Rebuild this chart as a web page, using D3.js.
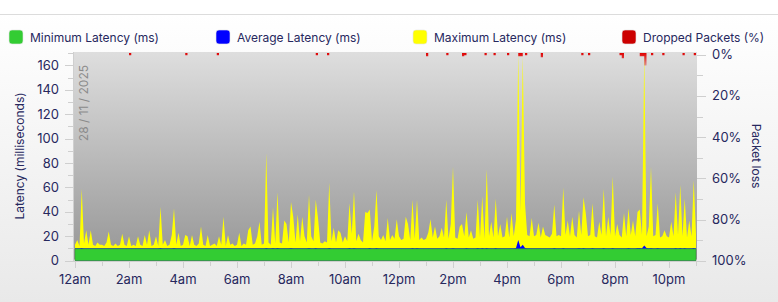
<!DOCTYPE html>
<html>
	<head>
		<meta charset="UTF-8" />
		<title>Latency</title>
		<script src="https://cdn.jsdelivr.net/npm/d3@7"></script>
		<style>
			body {
				margin: 0;
			}
			svg {
				display: block;
				width: 778px;
				height: 302px;
			}
			text {
				font-family: Inter, "Noto Sans", sans-serif;
			}
		</style>
	</head>
	<body>
		<svg></svg>

		<script>
			// one reading every 5 minutes, from 12am
			const stepMinutes = 5;

			const maxLatency = [
				13, 17, 12, 59, 14, 25, 13, 25, 13, 12, 15, 13,
				13, 12, 15, 24, 13, 12, 14, 12, 13, 22, 13, 12,
				20, 12, 13, 12, 20, 13, 12, 21, 13, 25, 12, 13,
				20, 12, 44, 13, 17, 12, 13, 21, 43, 13, 23, 12,
				13, 21, 20, 12, 21, 13, 12, 14, 28, 13, 12, 21,
				12, 13, 14, 12, 20, 13, 36, 12, 21, 13, 14, 12,
				13, 23, 12, 14, 13, 25, 28, 13, 14, 20, 32, 13,
				14, 88, 15, 13, 44, 14, 56, 15, 14, 33, 30, 15,
				48, 36, 15, 38, 16, 36, 20, 15, 54, 20, 16, 50,
				35, 15, 14, 16, 15, 64, 16, 27, 15, 25, 23, 15,
				20, 16, 47, 22, 57, 16, 22, 17, 15, 40, 39, 42,
				16, 28, 58, 20, 17, 21, 16, 35, 17, 21, 18, 34,
				20, 17, 18, 36, 30, 17, 50, 18, 50, 17, 19, 17,
				18, 23, 34, 19, 28, 18, 20, 27, 19, 50, 18, 30,
				77, 19, 18, 28, 30, 20, 40, 19, 25, 18, 19, 50,
				19, 53, 18, 75, 20, 32, 19, 51, 20, 30, 19, 20,
				36, 19, 39, 20, 34, 170, 40, 168, 47, 21, 20, 35,
				20, 21, 31, 19, 28, 21, 20, 19, 22, 46, 20, 21,
				20, 60, 21, 33, 20, 36, 21, 19, 41, 21, 52, 39,
				20, 21, 47, 20, 19, 32, 21, 59, 20, 36, 21, 69,
				20, 30, 21, 19, 39, 20, 43, 21, 33, 20, 40, 42,
				21, 170, 20, 28, 77, 20, 21, 47, 19, 20, 25, 20,
				19, 32, 20, 56, 21, 62, 20, 51, 19, 33, 20, 66,
				21,
			];

			const avgLatency = [
				10.3, 10.3, 10.2, 10.4, 10.3, 10.3, 10.2, 10.3, 10.3, 10.2, 10.3, 10.3,
				10.3, 10.2, 10.3, 10.3, 10.3, 10.2, 10.3, 10.3, 10.2, 10.3, 10.3, 10.3,
				10.3, 10.2, 10.3, 10.3, 10.3, 10.2, 10.3, 10.3, 10.2, 10.3, 10.3, 10.3,
				10.3, 10.2, 10.4, 10.3, 10.3, 10.2, 10.3, 10.3, 10.4, 10.3, 10.3, 10.3,
				10.3, 10.3, 10.3, 10.2, 10.3, 10.3, 10.3, 10.2, 10.3, 10.3, 10.3, 10.3,
				10.3, 10.2, 10.3, 10.3, 10.3, 10.2, 10.3, 10.3, 10.3, 10.3, 10.2, 10.3,
				10.3, 10.3, 10.3, 10.2, 10.3, 10.3, 10.3, 10.3, 10.3, 10.2, 10.3, 10.3,
				10.3, 10.5, 10.3, 10.3, 10.4, 10.3, 10.4, 10.3, 10.3, 10.3, 10.3, 10.3,
				10.4, 10.3, 10.3, 10.3, 10.3, 10.3, 10.3, 10.3, 10.4, 10.3, 10.3, 10.4,
				10.3, 10.3, 10.3, 10.3, 10.3, 10.4, 10.3, 10.3, 10.3, 10.3, 10.3, 10.3,
				10.3, 10.3, 10.4, 10.3, 10.4, 10.3, 10.3, 10.3, 10.3, 10.3, 10.3, 10.4,
				10.3, 10.3, 10.4, 10.3, 10.3, 10.3, 10.3, 10.3, 10.3, 10.3, 10.3, 10.3,
				10.3, 10.3, 10.3, 10.3, 10.3, 10.3, 10.4, 10.3, 10.4, 10.3, 10.3, 10.3,
				10.3, 10.3, 10.3, 10.3, 10.3, 10.3, 10.3, 10.3, 10.3, 10.4, 10.3, 10.3,
				10.5, 10.3, 10.3, 10.3, 10.3, 10.3, 10.4, 10.3, 10.3, 10.3, 10.3, 10.4,
				10.3, 10.4, 10.3, 10.5, 10.3, 10.3, 10.3, 10.4, 10.3, 10.3, 10.3, 10.3,
				10.3, 10.3, 10.3, 10.3, 10.4, 17.0, 11.0, 13.0, 10.5, 10.3, 10.3, 10.3,
				10.3, 10.3, 10.3, 10.3, 10.3, 10.3, 10.3, 10.3, 10.3, 10.4, 10.3, 10.3,
				10.3, 10.4, 10.3, 10.3, 10.3, 10.3, 10.3, 10.3, 10.4, 10.3, 10.4, 10.3,
				10.3, 10.3, 10.4, 10.3, 10.3, 10.3, 10.3, 10.4, 10.3, 10.3, 10.3, 10.5,
				10.3, 10.3, 10.3, 10.3, 10.3, 10.3, 10.4, 10.3, 10.3, 10.3, 10.4, 10.4,
				10.3, 12.5, 10.4, 10.3, 10.5, 10.3, 10.3, 10.4, 10.3, 10.3, 10.3, 10.3,
				10.3, 10.3, 10.3, 10.4, 10.3, 10.4, 10.3, 10.4, 10.3, 10.3, 10.3, 10.4,
				10.3,
			];

			const minLatency = [
				9.7, 9.7, 9.7, 9.7, 9.7, 9.7, 9.7, 9.7, 9.7, 9.7, 9.7, 9.7,
				9.7, 9.7, 9.7, 9.7, 9.7, 9.7, 9.7, 9.7, 9.7, 9.7, 9.7, 9.7,
				9.7, 9.7, 9.7, 9.7, 9.7, 9.7, 9.7, 9.7, 9.7, 9.7, 9.7, 9.7,
				9.7, 9.7, 9.7, 9.7, 9.7, 9.7, 9.7, 9.7, 9.7, 9.7, 9.7, 9.7,
				9.7, 9.7, 9.7, 9.7, 9.7, 9.7, 9.7, 9.7, 9.7, 9.7, 9.7, 9.7,
				9.7, 9.7, 9.7, 9.7, 9.7, 9.7, 9.7, 9.7, 9.7, 9.7, 9.7, 9.7,
				9.7, 9.7, 9.7, 9.7, 9.7, 9.7, 9.7, 9.7, 9.7, 9.7, 9.7, 9.7,
				9.7, 9.7, 9.7, 9.7, 9.7, 9.7, 9.7, 9.7, 9.7, 9.7, 9.7, 9.7,
				9.7, 9.7, 9.7, 9.7, 9.7, 9.7, 9.7, 9.7, 9.7, 9.7, 9.7, 9.7,
				9.7, 9.7, 9.7, 9.7, 9.7, 9.7, 9.7, 9.7, 9.7, 9.7, 9.7, 9.7,
				9.7, 9.7, 9.7, 9.7, 9.7, 9.7, 9.7, 9.7, 9.7, 9.7, 9.7, 9.7,
				9.7, 9.7, 9.7, 9.7, 9.7, 9.7, 9.7, 9.7, 9.7, 9.7, 9.7, 9.7,
				9.7, 9.7, 9.7, 9.7, 9.7, 9.7, 9.7, 9.7, 9.7, 9.7, 9.7, 9.7,
				9.7, 9.7, 9.7, 9.7, 9.7, 9.7, 9.7, 9.7, 9.7, 9.7, 9.7, 9.7,
				9.7, 9.7, 9.7, 9.7, 9.7, 9.7, 9.7, 9.7, 9.7, 9.7, 9.7, 9.7,
				9.7, 9.7, 9.7, 9.7, 9.7, 9.7, 9.7, 9.7, 9.7, 9.7, 9.7, 9.7,
				9.7, 9.7, 9.7, 9.7, 9.7, 9.7, 9.7, 9.7, 9.7, 9.7, 9.7, 9.7,
				9.7, 9.7, 9.7, 9.7, 9.7, 9.7, 9.7, 9.7, 9.7, 9.7, 9.7, 9.7,
				9.7, 9.7, 9.7, 9.7, 9.7, 9.7, 9.7, 9.7, 9.7, 9.7, 9.7, 9.7,
				9.7, 9.7, 9.7, 9.7, 9.7, 9.7, 9.7, 9.7, 9.7, 9.7, 9.7, 9.7,
				9.7, 9.7, 9.7, 9.7, 9.7, 9.7, 9.7, 9.7, 9.7, 9.7, 9.7, 9.7,
				9.7, 9.7, 9.7, 9.7, 9.7, 9.7, 9.7, 9.7, 9.7, 9.7, 9.7, 9.7,
				9.7, 9.7, 9.7, 9.7, 9.7, 9.7, 9.7, 9.7, 9.7, 9.7, 9.7, 9.7,
				9.7,
			];

			// dropped packets (%)
			const dropped = [
				0, 0, 0, 0, 0, 0, 0, 0, 0, 0, 0, 0,
				0, 0, 0, 0, 0, 0, 0, 0, 0, 0, 0, 0,
				1, 0, 0, 0, 0, 0, 0, 0, 0, 0, 0, 0,
				0, 0, 0, 0, 0, 0, 0, 0, 0, 0, 0, 0,
				0, 1, 0, 0, 0, 0, 0, 0, 0, 0, 0, 0,
				0, 0, 0, 1, 0, 0, 0, 0, 0, 0, 0, 0,
				0, 0, 0, 0, 0, 0, 0, 0, 0, 0, 0, 0,
				0, 0, 0, 0, 0, 0, 0, 0, 0, 0, 0, 0,
				0, 0, 0, 0, 0, 0, 0, 0, 0, 0, 0, 1,
				0, 0, 0, 0, 1, 0, 0, 0, 0, 0, 0, 0,
				0, 0, 0, 0, 0, 0, 0, 0, 0, 0, 0, 0,
				0, 0, 0, 0, 0, 0, 0, 0, 0, 0, 0, 0,
				0, 0, 0, 0, 0, 0, 0, 0, 0, 0, 0, 0,
				1.5, 0, 0, 0, 0, 0, 0, 0, 0, 1, 0, 0,
				0, 0, 0, 0, 1.5, 1, 0, 0, 0, 0, 0, 0,
				0, 0, 1, 0, 0, 0, 1, 0, 0, 0, 0, 0,
				1, 0, 0, 0, 0, 1.5, 1.5, 0, 1, 0, 0, 0,
				0, 0, 0, 2, 0, 0, 0, 0, 0, 0, 0, 0,
				0, 0, 0, 0, 0, 0, 0, 0, 0, 1, 0, 0,
				1, 0, 0, 0, 0, 0, 0, 0, 0, 0, 0, 0,
				0, 0, 1, 2.5, 0, 0, 0, 0, 0, 0, 0, 1.5,
				1.5, 6, 0, 0, 1, 0, 0, 0, 0, 1, 0, 0,
				0, 0, 0, 0, 0, 0, 1, 0, 0, 0, 0, 1,
				0,
			];

			const hourTicks = [0, 2, 4, 6, 8, 10, 12, 14, 16, 18, 20, 22];
			const hourLabels = ["12am", "2am", "4am", "6am", "8am", "10am", "12pm", "2pm", "4pm", "6pm", "8pm", "10pm"];
			const latencyTicks = [0, 20, 40, 60, 80, 100, 120, 140, 160];
			const lossTicks = [0, 20, 40, 60, 80, 100];

			const legendItems = [
				{ name: "Minimum Latency (ms)", color: "#33cc33" },
				{ name: "Average Latency (ms)", color: "#0000ff" },
				{ name: "Maximum Latency (ms)", color: "#ffff00" },
				{ name: "Dropped Packets (%)", color: "#cc0000" },
			];
			const legendX = [9, 216, 413, 622];

			const dateLabel = "28 / 11 / 2025";

			const textColor = "#27285e";
			const tickColor = "#cfcfcf";

			const svg = d3.select("svg");
			const defs = svg.append("defs");

			// background gradients
			const pageGrad = defs.append("linearGradient").attr("id", "pageGrad").attr("x1", 0).attr("y1", 0).attr("x2", 0).attr("y2", 1);
			pageGrad.append("stop").attr("offset", "0%").attr("stop-color", "#ffffff");
			pageGrad.append("stop").attr("offset", "100%").attr("stop-color", "#e9e9e9");

			const plotGrad = defs.append("linearGradient").attr("id", "plotGrad").attr("x1", 0).attr("y1", 0).attr("x2", 0).attr("y2", 1);
			plotGrad.append("stop").attr("offset", "0%").attr("stop-color", "#dedede");
			plotGrad.append("stop").attr("offset", "100%").attr("stop-color", "#979797");

			const redGrad = defs.append("linearGradient").attr("id", "redGrad").attr("x1", 0).attr("y1", 0).attr("x2", 0).attr("y2", 1);
			redGrad.append("stop").attr("offset", "0%").attr("stop-color", "#e00000");
			redGrad.append("stop").attr("offset", "100%").attr("stop-color", "#e00000").attr("stop-opacity", 0.35);

			svg.append("rect").attr("x", 0).attr("y", 14).attr("width", 778).attr("height", 288).attr("fill", "url(#pageGrad)");
			svg.append("line").attr("x1", 0).attr("x2", 778).attr("y1", 14.5).attr("y2", 14.5).attr("stroke", "#dcdcdc");

			// Scales
			const plotLeft = 74;
			const plotRight = 697;
			const plotTop = 52;
			const plotBottom = 261;

			const x = d3.scaleLinear().domain([0, 23]).range([plotLeft + 1, plotLeft + 1 + 23 * 27]);
			const y = d3.scaleLinear().domain([0, 171]).range([plotBottom - 0.3, plotTop]);
			const yLoss = d3.scaleLinear().domain([100, 0]).range([plotBottom - 0.3, 54.7]);

			const hour = (i) => (i * stepMinutes) / 60;

			// Plot background
			svg.append("rect")
				.attr("x", plotLeft)
				.attr("y", plotTop)
				.attr("width", plotRight - plotLeft)
				.attr("height", plotBottom - plotTop - 1.5)
				.attr("fill", "url(#plotGrad)");

			defs.append("clipPath").attr("id", "clip").append("rect")
				.attr("x", plotLeft).attr("y", plotTop).attr("width", plotRight - plotLeft).attr("height", plotBottom - plotTop);

			const plot = svg.append("g").attr("clip-path", "url(#clip)");

			// Date label
			plot.append("text")
				.text(dateLabel)
				.attr("transform", `translate(${plotLeft + 13.5},${plotTop + 13}) rotate(-90)`)
				.attr("text-anchor", "end")
				.attr("fill", "#8a8a8a")
				.style("font-size", "12px");

			// Add areas
			const area = (values) =>
				d3.area()
					.x((d, i) => x(hour(i)))
					.y0(y(0))
					.y1((d) => y(Math.min(d, 171)))(values);

			plot.append("path").attr("d", area(maxLatency)).attr("fill", "#ffff00");
			plot.append("path").attr("d", area(avgLatency)).attr("fill", "#0000ff");
			plot.append("path").attr("d", area(minLatency)).attr("fill", "#33cc33").attr("stroke", "#3c8a3c").attr("stroke-width", 0.6);

			// Add dropped packets
			const lossArea = d3.area()
				.curve(d3.curveStepAfter)
				.x((d, i) => x(hour(i)))
				.y0(53)
				.y1((d) => (d > 0 ? yLoss(d) - 1.5 : 53));
			plot.append("path").attr("d", lossArea(dropped)).attr("fill", "url(#redGrad)");

			// Left axis
			const yAxis = svg.append("g");
			yAxis.append("line").attr("x1", plotLeft - 0.5).attr("x2", plotLeft - 0.5).attr("y1", plotTop).attr("y2", plotBottom).attr("stroke", tickColor);
			yAxis.selectAll("line.minor")
				.data(d3.range(0, 171, 10))
				.enter()
				.append("line")
				.attr("x1", (d) => (d % 20 === 0 ? plotLeft - 9 : plotLeft - 6))
				.attr("x2", plotLeft - 1)
				.attr("y1", (d) => Math.round(y(d)) + 0.5)
				.attr("y2", (d) => Math.round(y(d)) + 0.5)
				.attr("stroke", tickColor);
			yAxis.selectAll("text")
				.data(latencyTicks)
				.enter()
				.append("text")
				.text((d) => d)
				.attr("x", plotLeft - 15)
				.attr("y", (d) => y(d))
				.attr("dy", "0.35em")
				.attr("text-anchor", "end")
				.attr("fill", textColor)
				.style("font-size", "13px");

			svg.append("text")
				.text("Latency  (milliseconds)")
				.attr("transform", `translate(24,156) rotate(-90)`)
				.attr("text-anchor", "middle")
				.attr("fill", textColor)
				.style("font-size", "12px");

			// Right axis
			const rAxis = svg.append("g");
			rAxis.selectAll("line")
				.data(d3.range(0, 101, 10))
				.enter()
				.append("line")
				.attr("x1", plotRight)
				.attr("x2", (d) => (d % 20 === 0 ? plotRight + 9 : plotRight + 6))
				.attr("y1", (d) => Math.round(yLoss(d)) + 0.5)
				.attr("y2", (d) => Math.round(yLoss(d)) + 0.5)
				.attr("stroke", tickColor);
			rAxis.selectAll("text")
				.data(lossTicks)
				.enter()
				.append("text")
				.text((d) => d + "%")
				.attr("x", plotRight + 15)
				.attr("y", (d) => yLoss(d))
				.attr("dy", "0.35em")
				.attr("fill", textColor)
				.style("font-size", "13px");

			svg.append("text")
				.text("Packet loss")
				.attr("transform", `translate(752,156) rotate(90)`)
				.attr("text-anchor", "middle")
				.attr("fill", textColor)
				.style("font-size", "12px");

			// Bottom axis
			const xAxis = svg.append("g");
			xAxis.append("line").attr("x1", plotLeft - 9).attr("x2", plotRight + 9).attr("y1", plotBottom + 0.5).attr("y2", plotBottom + 0.5).attr("stroke", tickColor);
			xAxis.selectAll("line.tick")
				.data(d3.range(0, 24))
				.enter()
				.append("line")
				.attr("x1", (d) => Math.round(x(d)) + 0.5)
				.attr("x2", (d) => Math.round(x(d)) + 0.5)
				.attr("y1", plotBottom)
				.attr("y2", (d) => (d % 2 === 0 ? plotBottom + 7 : plotBottom + 5))
				.attr("stroke", tickColor);
			xAxis.selectAll("text")
				.data(hourTicks)
				.enter()
				.append("text")
				.text((d, i) => hourLabels[i])
				.attr("x", (d) => x(d))
				.attr("y", 284)
				.attr("text-anchor", "middle")
				.attr("fill", textColor)
				.style("font-size", "13px");

			// Legend
			const legend = svg.selectAll("g.legend").data(legendItems).enter().append("g").attr("transform", (d, i) => `translate(${legendX[i]},30)`);
			legend.append("rect")
				.attr("width", 14)
				.attr("height", 14)
				.attr("rx", 3)
				.attr("fill", (d) => d.color)
				.attr("stroke", "#e4e4e4")
				.attr("stroke-width", 0.6);
			legend.append("text")
				.text((d) => d.name)
				.attr("x", 21)
				.attr("y", 11.5)
				.attr("fill", textColor)
				.style("font-size", "12px");
		</script>
	</body>
</html>
